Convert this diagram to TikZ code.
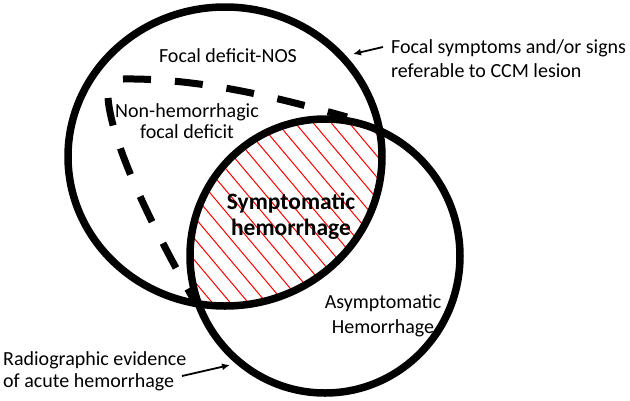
\documentclass[tikz,border=0pt]{standalone}
\usepackage{fontspec}
\setmainfont{Carlito}
\usetikzlibrary{arrows.meta}
\begin{document}
\begin{tikzpicture}[x=1pt,y=-1pt,
  ring/.style={line width=7.5pt},
  dashring/.style={line width=7pt, dash pattern=on 28pt off 24pt},
  hatch/.style={red, line width=1pt},
  lbl/.style={font=\fontsize{20}{24}\selectfont, inner sep=0pt, anchor=base, align=center},
  pointer/.style={line width=1.8pt, -{Latex[length=8pt,width=7pt]}}]
\useasboundingbox (0,0) rectangle (630,400);
% hatching in the overlap
\begin{scope}
  \clip (225,156.5) ellipse [x radius=157pt, y radius=149.5pt];
  \clip (325,256) ellipse [x radius=135pt, y radius=137pt];
  \foreach \x in {-120,-102,...,420} {
    \draw[hatch] (\x,100) -- ++(252,300);
  }
\end{scope}
% circles
\draw[ring] (225,156.5) ellipse [x radius=157pt, y radius=149.5pt];
\draw[ring] (325,256) ellipse [x radius=135pt, y radius=137pt];
% dashed region
\draw[dashring] (123,79) .. controls (200,78) and (280,98) .. (347,117);
\draw[dashring] (108,98) .. controls (112,150) and (165,250) .. (194,300);
% labels
\node[lbl] (nos) at (228,62) {Focal deficit-NOS};
\node[lbl] (nonh) at (187,138) {Non-hemorrhagic\\[-3pt]focal deficit};
\node[lbl, font=\fontsize{23.5}{26}\selectfont\bfseries] (sym) at (291,235) {Symptomatic\\hemorrhage};
\node[lbl] (asym) at (383,333) {Asymptomatic\\[1pt]Hemorrhage};
\node[lbl, anchor=base west, align=left] (focal) at (391,77) {Focal symptoms and/or signs\\referable to CCM lesion};
\node[lbl, anchor=base west, align=left] (radio) at (3,387) {Radiographic evidence\\[-2pt]of acute hemorrhage};
% pointers
\coordinate (p1s) at (383,47);
\coordinate (p1e) at (353,54);
\coordinate (p2s) at (182,376);
\coordinate (p2e) at (230,365);
\draw[pointer] (p1s) -- (p1e);
\draw[pointer] (p2s) -- (p2e);
\end{tikzpicture}
\end{document}
